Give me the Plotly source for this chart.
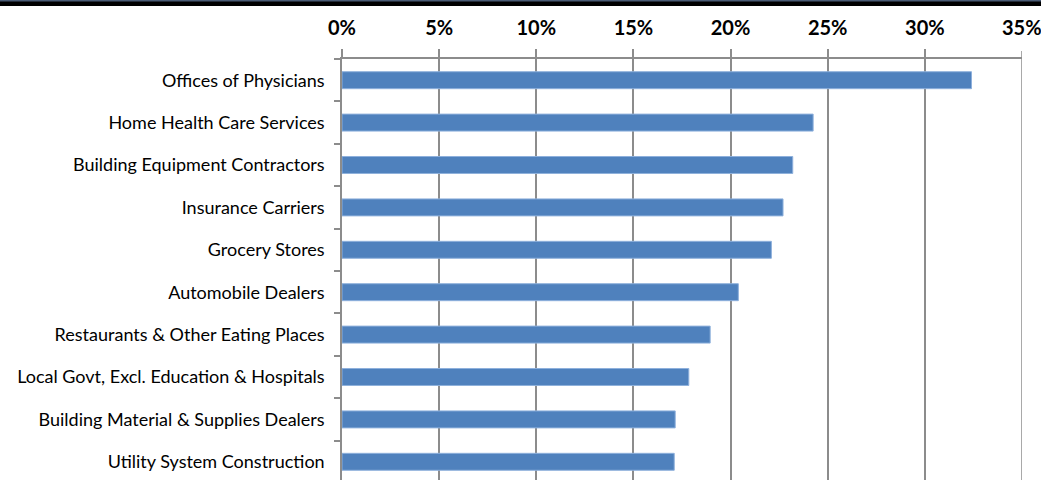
import plotly.graph_objects as go

industries = [
    "Offices of Physicians",
    "Home Health Care Services",
    "Building Equipment Contractors",
    "Insurance Carriers",
    "Grocery Stores",
    "Automobile Dealers",
    "Restaurants & Other Eating Places",
    "Local Govt, Excl. Education & Hospitals",
    "Building Material & Supplies Dealers",
    "Utility System Construction",
]
shares = [32.4, 24.25, 23.2, 22.7, 22.1, 20.4, 18.95, 17.85, 17.15, 17.1]
tick_vals = [0, 5, 10, 15, 20, 25, 30, 35]
tick_text = ["0%", "5%", "10%", "15%", "20%", "25%", "30%", "35%"]

W, H = 1041, 480
ML, MR, MT, MB = 342, 19, 59, 0
plot_h = H - MT - MB
plot_w = W - ML - MR

fig = go.Figure(go.Bar(
    x=shares,
    y=industries,
    orientation="h",
    marker=dict(color="#4F81BD", line=dict(color="#8EB0DC", width=1)),
    width=0.4,
))

# bottom of the chart is cut off by the window, as in the source
cat_px = 42.4
y_bottom = -0.5 + plot_h / cat_px

fig.update_layout(
    width=W, height=H,
    margin=dict(l=ML, r=MR, t=MT, b=MB, autoexpand=False),
    paper_bgcolor="white", plot_bgcolor="white",
    showlegend=False,
    font=dict(family="Lato, 'Open Sans', sans-serif", color="black"),
    xaxis=dict(
        side="top", range=[0, 35], tickvals=tick_vals[:-1], ticktext=tick_text[:-1],
        tickfont=dict(size=20, weight="bold", color="black"),
        ticklabelstandoff=6,
        showgrid=True, gridcolor="#8C8C8C", gridwidth=1.5,
        showline=True, linecolor="#8C8C8C", linewidth=1.5,
        ticks="outside", ticklen=8, tickcolor="#8C8C8C", tickwidth=1.5,
        zeroline=False, fixedrange=True, automargin=False,
    ),
    yaxis=dict(
        categoryorder="array", categoryarray=industries,
        range=[y_bottom, -0.5],
        tickfont=dict(size=18, color="black"),
        ticklabelstandoff=12,
        showline=True, linecolor="#8C8C8C", linewidth=1.5,
        ticks="outside", tickson="boundaries", ticklen=6,
        tickcolor="#8C8C8C", tickwidth=1.5,
        showgrid=False, zeroline=False, fixedrange=True, automargin=False,
    ),
)

# last tick label runs past the right edge (clipped, as in the source)
fig.add_annotation(x=tick_vals[-1], xref="x", y=1 + 32 / plot_h, yref="paper",
                   text=tick_text[-1], showarrow=False, xanchor="center", yanchor="middle",
                   font=dict(size=20, weight="bold", color="black"))
fig.add_shape(type="line", xref="x", yref="paper", x0=35, x1=35, y0=0, y1=1,
              line=dict(color="#8C8C8C", width=1.5))
fig.add_shape(type="line", xref="x", yref="paper", x0=35, x1=35, y0=1, y1=1 + 8 / plot_h,
              line=dict(color="#8C8C8C", width=1.5))

# dark band along the top edge of the picture
top = 1 + MT / plot_h
fig.add_shape(type="rect", xref="paper", yref="paper",
              x0=-ML / plot_w, x1=1 + MR / plot_w,
              y0=top - 6 / plot_h, y1=top,
              fillcolor="black", line=dict(width=0), layer="above")
fig.add_shape(type="rect", xref="paper", yref="paper",
              x0=-ML / plot_w, x1=1 + MR / plot_w,
              y0=top - 1.5 / plot_h, y1=top,
              fillcolor="#4A5B75", line=dict(width=0), layer="above")

fig.write_html("out.html", config={"displayModeBar": False},
               post_script="document.body.style.margin='0';")
